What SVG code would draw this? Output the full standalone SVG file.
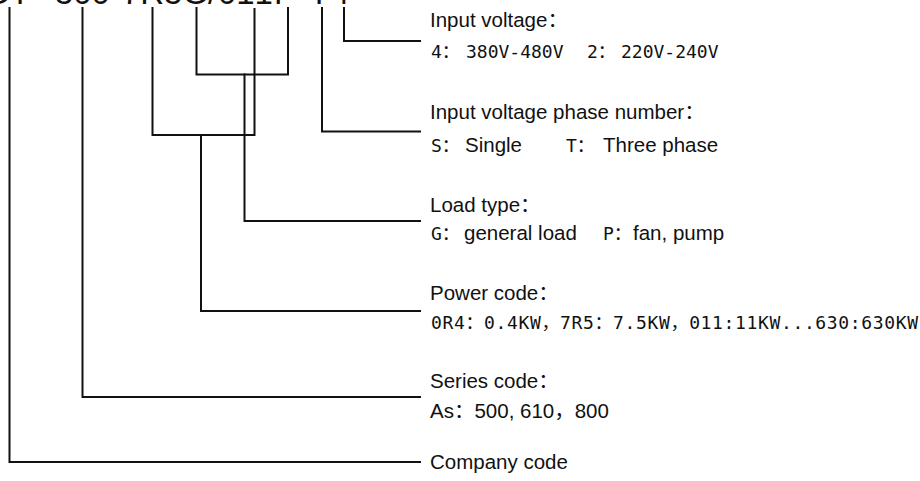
<svg xmlns="http://www.w3.org/2000/svg" width="920" height="481" viewBox="0 0 920 481">
<style>
  .ln { fill: none; stroke: #111; stroke-width: 2; stroke-linejoin: miter; stroke-linecap: square; }
  .lbl { font-family: "Liberation Sans", "Noto Sans CJK SC", sans-serif; font-size: 20.5px; fill: #111; }
  .mono { font-family: "DejaVu Sans Mono", "Noto Sans CJK SC", monospace; font-size: 18px; fill: #111; }
  .model { font-family: "Liberation Sans", Arial, sans-serif; font-size: 33px; fill: #111; }
</style>
<rect width="920" height="481" fill="#fff"/>
<text class="model" y="4" x="-16 10 38 55 73.3 91.6 110 122 140.3 164.1 182.4 208.1 218 236.3 254.6 274 296 309 331">GT-500-7R5G/011P-T4</text>
<g id="connectors">
  <path class="ln" d="M9.5 8 V462 H420"/>
  <path class="ln" d="M82.5 8 V397 H420"/>
  <path class="ln" d="M152.5 8 V135 H254.5 V9"/>
  <path class="ln" d="M201 135 V311 H420"/>
  <path class="ln" d="M196.5 8 V74.5 H288 V8"/>
  <path class="ln" d="M244.5 74.5 V221 H420"/>
  <path class="ln" d="M322 8 V131.5 H420"/>
  <path class="ln" d="M344 8 V41 H420"/>
</g>
<g id="input-voltage">
  <text class="lbl" x="430" y="27">Input voltage：</text>
  <text class="mono" y="58"><tspan x="431">4：</tspan><tspan x="466">380V-480V</tspan><tspan x="587">2：</tspan><tspan x="621">220V-240V</tspan></text>
</g>
<g id="phase-number">
  <text class="lbl" x="430" y="119">Input voltage phase number：</text>
  <text y="152"><tspan class="mono" x="431">S：</tspan><tspan class="lbl" x="465">Single</tspan><tspan class="mono" x="566">T：</tspan><tspan class="lbl" x="603">Three phase</tspan></text>
</g>
<g id="load-type">
  <text class="lbl" x="430" y="212">Load type：</text>
  <text y="240"><tspan class="mono" x="431">G：</tspan><tspan class="lbl" x="464">general load</tspan><tspan class="mono" x="603">P：</tspan><tspan class="lbl" x="633">fan, pump</tspan></text>
</g>
<g id="power-code">
  <text class="lbl" x="430" y="300">Power code：</text>
  <text class="mono" x="431" y="329" textLength="487" lengthAdjust="spacing">0R4：0.4KW，7R5：7.5KW，011:11KW...630:630KW</text>
</g>
<g id="series-code">
  <text class="lbl" x="430" y="388">Series code：</text>
  <text class="lbl" x="430" y="418">As：500, 610，800</text>
</g>
<g id="company-code">
  <text class="lbl" x="430" y="469">Company code</text>
</g>
</svg>
